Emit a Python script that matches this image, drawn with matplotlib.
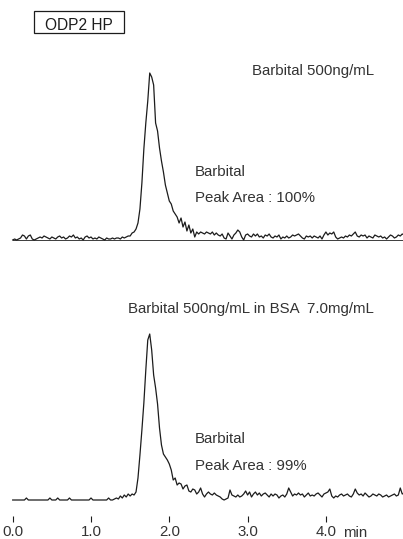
import numpy as np
import matplotlib
matplotlib.use("Agg")
import matplotlib.pyplot as plt
from matplotlib.patches import Rectangle


# -------------------------
# Data (response in arbitrary units)
# -------------------------
DT = 0.025  # min between samples, first sample at 0.0 min

# Barbital 500ng/mL (one row = 0.25 min)
signal_std = [
    1, 2, 1, 2, 3, 6, 5, 2, 5, 6,
    2, 1, 2, 3, 4, 3, 5, 4, 3, 2,
    4, 3, 2, 4, 5, 3, 4, 2, 3, 5,
    4, 6, 3, 4, 2, 3, 1, 4, 5, 3,
    4, 2, 3, 2, 4, 3, 2, 1, 3, 2,
    2, 3, 2, 3, 3, 2, 4, 3, 4, 5,
    5, 8, 9, 12, 18, 32, 58, 92, 118, 140,
    168, 164, 156, 118, 110, 93, 80, 69, 56, 48,
    40, 37, 30, 27, 24, 18, 23, 14, 19, 10,
    16, 8, 12, 4, 9, 7, 9, 8, 7, 9,
    8, 7, 9, 6, 8, 6, 5, 7, 3, 2,
    8, 5, 2, 6, 8, 11, 9, 4, 1, 6,
    7, 5, 4, 7, 5, 7, 4, 5, 3, 6,
    5, 7, 4, 3, 5, 4, 6, 2, 4, 3,
    5, 3, 4, 6, 5, 6, 7, 5, 3, 2,
    5, 4, 5, 3, 5, 4, 3, 5, 2, 6,
    9, 6, 8, 7, 9, 4, 2, 3, 4, 3,
    5, 4, 6, 5, 7, 9, 5, 4, 6, 5,
    6, 3, 5, 4, 3, 6, 5, 4, 5, 3,
    4, 2, 4, 6, 5, 3, 4, 6, 5, 7,
    6,
]

# Barbital 500ng/mL in BSA 7.0mg/mL
signal_bsa = [
    0, 0, 0, 0, 0, 0, 0, 2, 0, 0,
    0, 0, 0, 0, 0, 0, 0, 0, 0, 2,
    0, 0, 0, 2, 0, 0, 0, 0, 0, 2,
    0, 0, 0, 0, 0, 0, 0, 0, 0, 0,
    2, 0, 0, 0, 0, 0, 0, 0, 0, 2,
    0, 0, 1, 2, 1, 4, 2, 5, 3, 6,
    4, 6, 5, 8, 22, 45, 70, 97, 130, 160,
    166, 150, 125, 112, 96, 72, 55, 46, 43, 40,
    36, 30, 20, 22, 15, 17, 16, 11, 14, 15,
    9, 8, 11, 10, 6, 8, 12, 6, 3, 6,
    8, 6, 5, 7, 5, 4, 3, 1, 0, 1,
    2, 10, 5, 4, 3, 5, 3, 4, 6, 9,
    5, 8, 3, 6, 8, 5, 7, 4, 6, 7,
    5, 3, 6, 4, 6, 5, 2, 4, 5, 3,
    6, 12, 8, 4, 6, 5, 7, 5, 6, 3,
    5, 7, 4, 5, 4, 6, 7, 5, 3, 6,
    7, 8, 11, 4, 2, 4, 3, 5, 6, 4,
    5, 6, 4, 3, 6, 11, 7, 5, 6, 4,
    7, 5, 3, 4, 6, 5, 4, 6, 5, 3,
    4, 5, 3, 4, 5, 6, 4, 5, 12, 6,
    7,
]

tick_values = [0.0, 1.0, 2.0, 3.0, 4.0]
tick_labels = ["0.0", "1.0", "2.0", "3.0", "4.0"]

title_text = "ODP2 HP"
label_std = "Barbital 500ng/mL"
label_bsa = "Barbital 500ng/mL in BSA  7.0mg/mL"
peak_name = "Barbital"
area_std = "Peak Area : 100%"
area_bsa = "Peak Area : 99%"


# -------------------------
# Style / layout
# -------------------------
W, H = 403, 539  # output size in px (dpi 100)
LINE = "#1c1c1c"
TEXT = "#333333"
FS = 10.8

plt.rcParams["font.family"] = ["Liberation Sans", "DejaVu Sans"]

X0_PX = 12.7       # px of t = 0.0
PX_PER_MIN = 78.3
XMIN = -X0_PX / PX_PER_MIN
XMAX = (W - X0_PX) / PX_PER_MIN


def fx(x):
    return x / W


def fy(y):
    return 1.0 - y / H


def main():
    time = np.arange(len(signal_std)) * DT

    fig = plt.figure(figsize=(W / 100, H / 100), dpi=100)

    # top run: baseline of axis sits at y=241 px
    ax_top = fig.add_axes([0, fy(241), 1, 190 / H])
    ax_top.set_xlim(XMIN, XMAX)
    ax_top.set_ylim(0, 190)
    ax_top.axis("off")
    ax_top.hlines(0, time[0], time[-1], color=LINE, lw=1.2)
    ax_top.plot(time, signal_std, color=LINE, lw=0.9, solid_joinstyle="round")

    # bottom run: zero at y=500 px, time ticks at the bottom edge (522 px)
    ax_bot = fig.add_axes([0, fy(522), 1, 212 / H])
    ax_bot.set_xlim(XMIN, XMAX)
    ax_bot.set_ylim(-22, 190)
    for s in ax_bot.spines.values():
        s.set_visible(False)
    ax_bot.set_yticks([])
    ax_bot.set_xticks(tick_values, tick_labels)
    ax_bot.tick_params(axis="x", direction="in", length=4.3, width=0.8,
                       color=LINE, pad=2.5, labelsize=FS, labelcolor=TEXT)
    ax_bot.plot(time, signal_bsa, color=LINE, lw=0.9, solid_joinstyle="round")
    fig.text(fx(343), fy(537), "min", fontsize=FS, color=TEXT, va="baseline")

    # title box
    fig.patches.append(Rectangle((fx(34), fy(33)), fx(90), 22 / H,
                                 transform=fig.transFigure, fill=False,
                                 edgecolor=LINE, lw=0.9))
    fig.text(fx(79), fy(29.5), title_text, fontsize=11.2, color=LINE,
             ha="center", va="baseline")

    # annotations
    fig.text(fx(252), fy(75.5), label_std, fontsize=FS, color=TEXT, va="baseline")
    fig.text(fx(195), fy(176), peak_name, fontsize=FS, color=TEXT, va="baseline")
    fig.text(fx(195), fy(202), area_std, fontsize=FS, color=TEXT, va="baseline")

    fig.text(fx(128), fy(313), label_bsa, fontsize=FS, color=TEXT, va="baseline")
    fig.text(fx(195), fy(443), peak_name, fontsize=FS, color=TEXT, va="baseline")
    fig.text(fx(195), fy(470), area_bsa, fontsize=FS, color=TEXT, va="baseline")

    fig.savefig("out.png", dpi=100)
    plt.close(fig)


if __name__ == "__main__":
    main()
